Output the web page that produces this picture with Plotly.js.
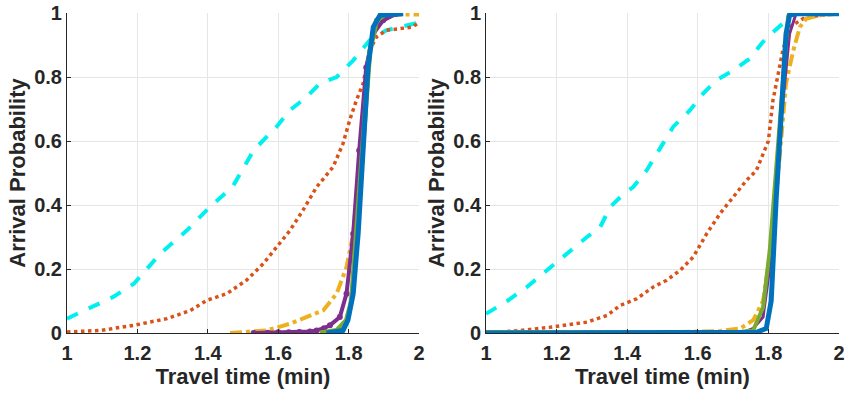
<!DOCTYPE html>
<html><head><meta charset="utf-8">
<script src="https://cdn.plot.ly/plotly-3.0.1.min.js"></script>
<style>html,body{margin:0;padding:0;background:#fff}</style>
</head><body><div id="chart" style="width:850px;height:393px"></div>
<script>
// Left panel
const L_cyan_x = [1,1.13,1.19,1.265,1.34,1.406,1.47,1.53,1.595,1.633,1.68,1.718,1.766,1.813,1.86,1.907,1.945,2];
const L_cyan_y = [0.045,0.112,0.154,0.248,0.32,0.394,0.456,0.571,0.644,0.696,0.737,0.779,0.80,0.852,0.915,0.946,0.956,0.97];
const L_orange_x = [1,1.095,1.19,1.284,1.35,1.397,1.454,1.51,1.558,1.595,1.633,1.67,1.709,1.756,1.784,1.803,1.822,1.841,1.85,1.86,1.879,1.907,1.945,1.98,2];
const L_orange_y = [0.003,0.008,0.024,0.045,0.07,0.102,0.123,0.165,0.217,0.269,0.32,0.383,0.456,0.519,0.592,0.665,0.727,0.779,0.83,0.883,0.925,0.946,0.951,0.956,0.97];
const L_yellow_x = [1.463,1.567,1.633,1.69,1.728,1.766,1.794,1.813,1.83,1.85,1.86,1.879,1.907,1.945,2];
const L_yellow_y = [0,0.008,0.029,0.055,0.071,0.123,0.206,0.31,0.52,0.727,0.88,0.967,0.99,0.995,0.995];
const L_purple_x = [1.53,1.57,1.6,1.63,1.66,1.69,1.709,1.73,1.747,1.775,1.794,1.813,1.83,1.85,1.87,1.898,1.935];
const L_purple_y = [0,0.001,0.002,0.002,0.003,0.005,0.008,0.015,0.024,0.05,0.123,0.31,0.57,0.83,0.935,0.977,0.998];
const L_green_x = [1.718,1.766,1.794,1.808,1.822,1.841,1.86,1.879,1.907,1.945];
const L_green_y = [0,0.008,0.04,0.10,0.31,0.62,0.88,0.977,0.998,1];
const L_blue_x = [1.737,1.784,1.798,1.813,1.827,1.841,1.855,1.87,1.889,1.955];
const L_blue_y = [0,0.008,0.04,0.123,0.31,0.57,0.83,0.956,0.993,0.998];
// Right panel
const R_cyan_x = [1,1.06,1.116,1.172,1.229,1.286,1.323,1.352,1.39,1.417,1.455,1.493,1.53,1.578,1.615,1.653,1.70,1.747,1.784,1.813,1.841,1.86];
const R_cyan_y = [0.06,0.10,0.144,0.196,0.248,0.30,0.33,0.394,0.435,0.456,0.508,0.58,0.644,0.696,0.748,0.79,0.82,0.857,0.909,0.94,0.967,0.993];
const R_orange_x = [1,1.097,1.19,1.286,1.343,1.38,1.427,1.474,1.512,1.55,1.587,1.625,1.663,1.70,1.738,1.766,1.785,1.8,1.813,1.832,1.841,1.86,1.898,1.945,2];
const R_orange_y = [0,0.008,0.019,0.034,0.055,0.086,0.107,0.144,0.165,0.196,0.2375,0.31,0.373,0.425,0.477,0.508,0.56,0.60,0.727,0.83,0.883,0.956,0.982,0.993,0.998];
const R_yellow_x = [1,1.3,1.5,1.663,1.72,1.757,1.785,1.813,1.832,1.85,1.87,1.889,1.907,1.945,2];
const R_yellow_y = [0.002,0.002,0.002,0.006,0.014,0.04,0.10,0.31,0.57,0.78,0.88,0.956,0.982,0.993,0.998];
const R_purple_x = [1,1.5,1.73,1.757,1.785,1.804,1.832,1.86,1.879];
const R_purple_y = [0,0,0.003,0.014,0.05,0.206,0.62,0.935,1];
const R_green_x = [1,1.5,1.7,1.757,1.785,1.804,1.822,1.841,1.856,1.86];
const R_green_y = [0.003,0.002,0.001,0.008,0.08,0.26,0.52,0.78,0.99,1];
const R_blue_x = [1,1.5,1.75,1.766,1.794,1.808,1.822,1.837,1.85,1.86,1.879,2];
const R_blue_y = [0,0,0,0.002,0.014,0.10,0.416,0.727,0.935,0.993,0.998,0.998];

const C = {cyan:'#00F0F0', orange:'#D95319', yellow:'#EDB120', purple:'#7E2F8E', green:'#77AC30', blue:'#0072BD'};

function tr(x,y,color,width,dash,xa,ya,markers){
  const t = {x:x,y:y,type:'scatter',mode:markers?'lines+markers':'lines',xaxis:xa,yaxis:ya,
    line:{color:color,width:width,dash:dash},showlegend:false,hoverinfo:'skip'};
  if(markers) t.marker={color:color,size:6};
  return t;
}
const data = [
  tr(L_cyan_x,L_cyan_y,C.cyan,4,'dash','x','y'),
  tr(L_orange_x,L_orange_y,C.orange,3.5,'dot','x','y'),
  tr(L_yellow_x,L_yellow_y,C.yellow,4,'dashdot','x','y'),
  tr(L_purple_x,L_purple_y,C.purple,4,'solid','x','y',true),
  tr(L_green_x,L_green_y,C.green,5,'solid','x','y'),
  tr(L_blue_x,L_blue_y,C.blue,5,'solid','x','y'),
  tr(R_cyan_x,R_cyan_y,C.cyan,4,'dash','x2','y2'),
  tr(R_orange_x,R_orange_y,C.orange,3.5,'dot','x2','y2'),
  tr(R_yellow_x,R_yellow_y,C.yellow,4,'dashdot','x2','y2'),
  tr(R_purple_x,R_purple_y,C.purple,3,'solid','x2','y2'),
  tr(R_green_x,R_green_y,C.green,4,'solid','x2','y2'),
  tr(R_blue_x,R_blue_y,C.blue,5,'solid','x2','y2')
];
const tickF = {family:'Liberation Sans, Arial, sans-serif', size:20, color:'#262626', weight:'bold'};
const titleF = {family:'Liberation Sans, Arial, sans-serif', size:22, color:'#262626', weight:'bold'};
function xa(domain){return {domain:domain,range:[1,2],dtick:0.2,tick0:1,showgrid:true,gridcolor:'#e6e6e6',
  zeroline:false,showline:true,linecolor:'#262626',linewidth:1,ticks:'inside',ticklen:4,tickcolor:'#262626',
  ticklabelstandoff:2,
  tickfont:tickF,title:{text:'Travel time (min)',font:titleF,standoff:5},mirror:false};}
function ya(anchor){return {anchor:anchor,domain:[0,1],range:[0,1],dtick:0.2,showgrid:true,gridcolor:'#e6e6e6',
  zeroline:false,showline:true,linecolor:'#262626',linewidth:1,ticks:'inside',ticklen:4,tickcolor:'#262626',
  tickfont:tickF,title:{text:'Arrival Probability',font:titleF,standoff:2}};}
const layout = {
  width:850,height:393,margin:{l:0,r:0,t:13,b:60},paper_bgcolor:'#fff',plot_bgcolor:'#fff',
  xaxis:Object.assign(xa([0.0788,0.493]),{anchor:'y'}),
  yaxis:ya('x'),
  xaxis2:Object.assign(xa([0.5718,0.987]),{anchor:'y2'}),
  yaxis2:ya('x2')
};
Plotly.newPlot('chart',data,layout,{displayModeBar:false,staticPlot:true});
</script></body></html>
